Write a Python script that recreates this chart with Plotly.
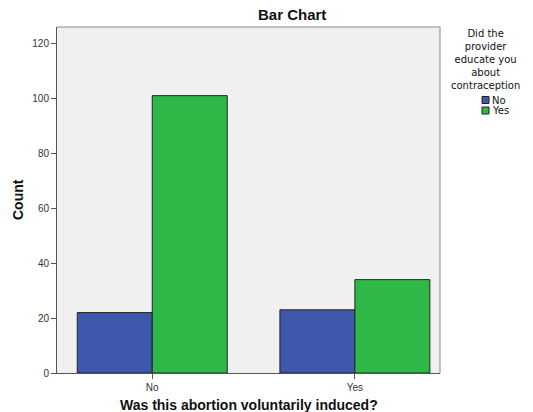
import plotly.graph_objects as go

categories = ["No", "Yes"]
series_names = ["No", "Yes"]
values_no = [22, 23]
values_yes = [101, 34]
colors = ["#3E58AC", "#2EB848"]
y_ticks = [0, 20, 40, 60, 80, 100, 120]
legend_title_lines = ["Did the", "provider", "educate you", "about", "contraception"]

FONT = "Liberation Sans, Arial, sans-serif"
LFONT = "DejaVu Sans, sans-serif"

W, H = 533, 412
L, R, T, B = 57, 93, 27, 39
PW, PH = W - L - R, H - T - B


def px(x):
    return (x - L) / PW


def py(y):
    return (H - B - y) / PH


fig = go.Figure()
for name, vals, col in zip(series_names, [values_no, values_yes], colors):
    fig.add_trace(go.Bar(
        x=categories, y=vals, name=name, showlegend=False,
        marker=dict(color=col, line=dict(color="#222222", width=1)),
    ))

fig.update_layout(
    width=W, height=H,
    margin=dict(l=L, r=R, t=T, b=B, autoexpand=False),
    paper_bgcolor="white",
    plot_bgcolor="#F0F0F0",
    barmode="group",
    bargap=0.26,
    bargroupgap=0,
    font=dict(family=FONT, size=10, color="#333333"),
    showlegend=False,
)

fig.update_xaxes(
    range=[-0.47, 1.42], automargin=False,
    showline=True, linecolor="#555555", linewidth=1,
    ticks="outside", ticklen=5, tickcolor="#555555",
    showgrid=False, zeroline=False,
    tickfont=dict(size=10, color="#333333"),
)
fig.update_yaxes(
    range=[0, 126], automargin=False,
    tickvals=y_ticks,
    showline=True, linecolor="#555555", linewidth=1,
    ticks="outside", ticklen=5, tickcolor="#555555",
    showgrid=False, zeroline=False,
    tickfont=dict(size=10, color="#333333"),
)

# light frame on top/right
fig.add_shape(type="line", xref="paper", yref="paper", x0=0, x1=1, y0=1, y1=1,
              line=dict(color="#8A8A8A", width=1))
fig.add_shape(type="line", xref="paper", yref="paper", x0=1, x1=1, y0=0, y1=1,
              line=dict(color="#8A8A8A", width=1))

# titles
fig.add_annotation(text="<b>Bar Chart</b>", xref="paper", yref="paper",
                   x=px(292), y=py(15), xanchor="center", yanchor="middle",
                   showarrow=False, font=dict(size=15, color="#111111", family=FONT))
fig.add_annotation(text="<b>Was this abortion voluntarily induced?</b>", xref="paper", yref="paper",
                   x=px(249), y=py(405), xanchor="center", yanchor="middle",
                   showarrow=False, font=dict(size=14, color="#111111", family=FONT))
fig.add_annotation(text="<b>Count</b>", xref="paper", yref="paper", textangle=-90,
                   x=px(18), y=py(200), xanchor="center", yanchor="middle",
                   showarrow=False, font=dict(size=14, color="#111111", family=FONT))

# legend title
fig.add_annotation(text="<br>".join(legend_title_lines), xref="paper", yref="paper",
                   x=px(485), y=py(60), xanchor="center", yanchor="middle", align="center",
                   showarrow=False, font=dict(size=10, color="#111111", family=LFONT))

# legend entries
for i, (name, col) in enumerate(zip(series_names, colors)):
    yc = 100 + 10.5 * i
    fig.add_shape(type="rect", xref="paper", yref="paper",
                  x0=px(482), x1=px(489), y0=py(yc - 3.5), y1=py(yc + 3.5),
                  fillcolor=col, line=dict(color="#222222", width=1))
    fig.add_annotation(text=name, xref="paper", yref="paper",
                       x=px(490), y=py(yc), xanchor="left", yanchor="middle",
                       showarrow=False, font=dict(size=10, color="#111111", family=LFONT))

fig.write_html("out.html", config={"displayModeBar": False},
               post_script="document.body.style.margin='0';")
